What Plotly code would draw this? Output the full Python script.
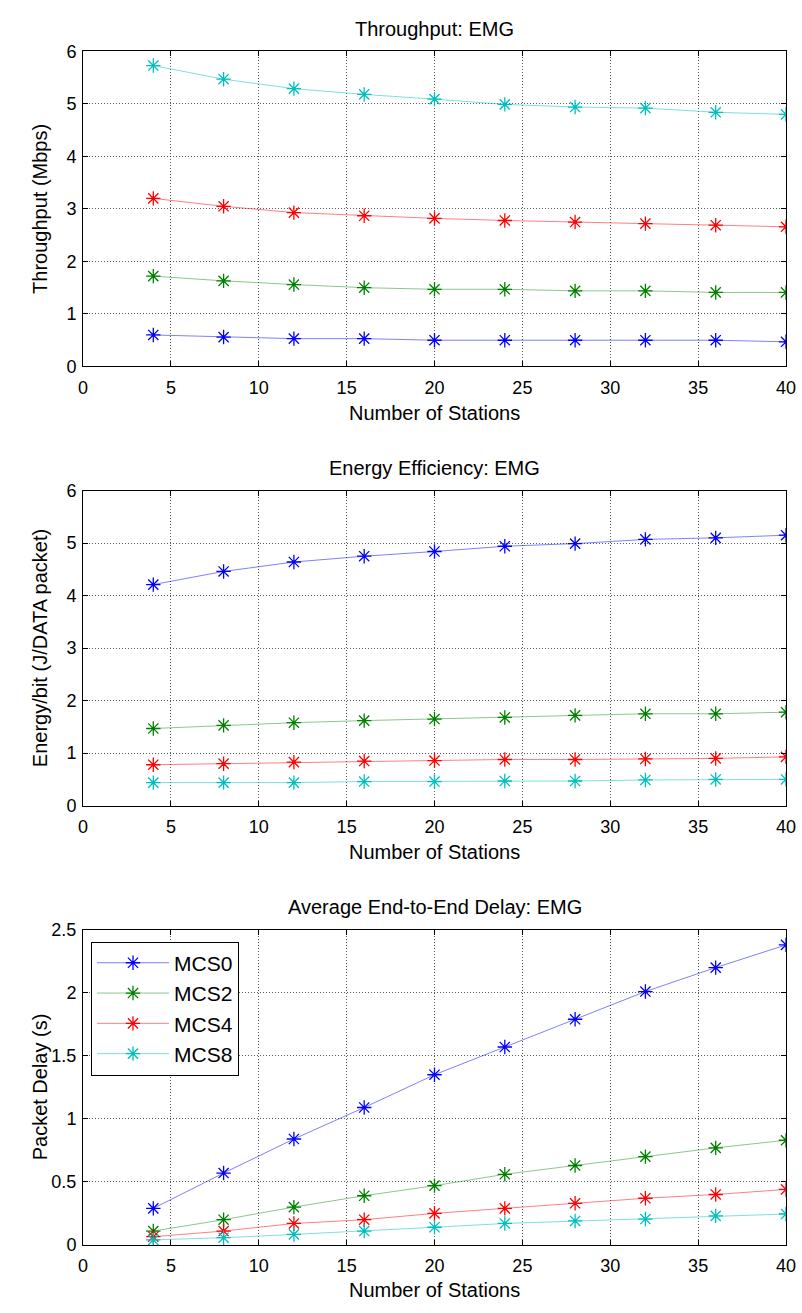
import plotly.graph_objects as go

# Number of stations on the x axis
stations = [4, 8, 12, 16, 20, 24, 28, 32, 36, 40]
series_names = ["MCS0", "MCS2", "MCS4", "MCS8"]

# Throughput (Mbps)
thr_mcs0 = [0.60, 0.56, 0.53, 0.53, 0.50, 0.50, 0.50, 0.50, 0.50, 0.47]
thr_mcs2 = [1.72, 1.63, 1.56, 1.50, 1.47, 1.47, 1.44, 1.44, 1.41, 1.41]
thr_mcs4 = [3.20, 3.05, 2.93, 2.87, 2.82, 2.78, 2.75, 2.72, 2.69, 2.66]
thr_mcs8 = [5.73, 5.47, 5.29, 5.18, 5.09, 4.99, 4.94, 4.92, 4.84, 4.80]

# Energy per bit (J/DATA packet)
eng_mcs0 = [4.21, 4.46, 4.64, 4.75, 4.84, 4.94, 4.99, 5.07, 5.10, 5.15]
eng_mcs2 = [1.47, 1.53, 1.58, 1.62, 1.65, 1.68, 1.72, 1.75, 1.75, 1.78]
eng_mcs4 = [0.78, 0.80, 0.83, 0.85, 0.86, 0.88, 0.88, 0.89, 0.90, 0.93]
eng_mcs8 = [0.44, 0.44, 0.44, 0.46, 0.46, 0.47, 0.47, 0.49, 0.50, 0.50]

# Average end-to-end packet delay (s)
dly_mcs0 = [0.29, 0.57, 0.84, 1.09, 1.35, 1.57, 1.79, 2.01, 2.20, 2.38]
dly_mcs2 = [0.11, 0.20, 0.30, 0.39, 0.47, 0.56, 0.63, 0.70, 0.77, 0.83]
dly_mcs4 = [0.065, 0.11, 0.17, 0.20, 0.25, 0.29, 0.33, 0.37, 0.40, 0.44]
dly_mcs8 = [0.04, 0.057, 0.083, 0.11, 0.14, 0.17, 0.19, 0.205, 0.23, 0.245]

line_colors = ["rgba(0,0,255,0.5)", "rgba(0,128,0,0.45)", "rgba(255,0,0,0.5)", "rgba(0,191,191,0.5)"]
marker_colors = ["#0000FF", "#008000", "#FF0000", "#00BFBF"]

panels = [
    ("Throughput: EMG", "Throughput (Mbps)", [thr_mcs0, thr_mcs2, thr_mcs4, thr_mcs8], [0, 6], 1),
    ("Energy Efficiency: EMG", "Energy/bit (J/DATA packet)", [eng_mcs0, eng_mcs2, eng_mcs4, eng_mcs8], [0, 6], 1),
    ("Average End-to-End Delay: EMG", "Packet Delay (s)", [dly_mcs0, dly_mcs2, dly_mcs4, dly_mcs8], [0, 2.5], 0.5),
]

W, H = 802, 1313
ML, MR = 83, 16
# plot-area vertical pixel extents (top, bottom)
areas = [(42, 362), (488, 808), (934, 1254)]
# offsets below each axis for the x-axis title
xtitle_gap = [47, 47, 46]

FONT = "Liberation Sans, Arial, sans-serif"

fig = go.Figure()
layout = dict(
    width=W, height=H,
    margin=dict(l=ML, r=MR, t=0, b=0, pad=0),
    paper_bgcolor="white", plot_bgcolor="white",
    font=dict(family=FONT, size=18, color="black"),
    showlegend=True,
    annotations=[],
)

def py(px):
    return 1 - px / H

for i, (title, ytitle, data, yr, dt) in enumerate(panels):
    n = i + 1
    xa = "x" if n == 1 else f"x{n}"
    ya = "y" if n == 1 else f"y{n}"
    for k, vals in enumerate(data):
        fig.add_trace(go.Scatter(
            x=stations, y=vals, xaxis=xa, yaxis=ya,
            mode="lines+markers", name=series_names[k],
            showlegend=(n == 3),
            line=dict(color=line_colors[k], width=1),
            marker=dict(symbol="asterisk-open", size=12,
                        line=dict(color=marker_colors[k], width=1.3),
                        color=marker_colors[k]),
        ))
    top, bot = areas[i]
    axis_common = dict(
        showline=True, linecolor="black", linewidth=1, mirror="ticks",
        ticks="inside", ticklen=5, tickwidth=1, tickcolor="black",
        showgrid=True, gridcolor="rgba(0,0,0,0.65)", griddash="1px,2px", gridwidth=1,
        zeroline=False, tickfont=dict(family=FONT, size=18, color="black"),
    )
    layout["xaxis" if n == 1 else f"xaxis{n}"] = dict(
        axis_common, domain=[0, 1], range=[0, 40], dtick=5, tick0=0,
        anchor=ya, ticklabelstandoff=5,
    )
    layout["yaxis" if n == 1 else f"yaxis{n}"] = dict(
        axis_common, domain=[py(bot), py(top)], range=yr, dtick=dt, tick0=0,
        anchor=xa, ticklabelstandoff=2,
    )
    # panel title
    layout["annotations"].append(dict(
        text=title, xref="paper", yref="paper", x=0.5, y=py(top - 23),
        xanchor="center", yanchor="middle", showarrow=False,
        font=dict(family=FONT, size=20, color="black"),
    ))
    # x-axis title
    layout["annotations"].append(dict(
        text="Number of Stations", xref="paper", yref="paper", x=0.5,
        y=py(bot + xtitle_gap[i]),
        xanchor="center", yanchor="middle", showarrow=False,
        font=dict(family=FONT, size=20, color="black"),
    ))
    # y-axis title
    layout["annotations"].append(dict(
        text=ytitle, xref="paper", yref="paper", x=(40 - ML) / (W - ML - MR),
        y=py((top + bot) / 2), xanchor="center", yanchor="middle",
        textangle=-90, showarrow=False,
        font=dict(family=FONT, size=20, color="black"),
    ))

layout["legend"] = dict(
    x=(91 - ML) / (W - ML - MR), y=py(946), xanchor="left", yanchor="top",
    bgcolor="white", bordercolor="black", borderwidth=1,
    font=dict(family=FONT, size=21, color="black"),
    itemwidth=72, tracegroupgap=0,
)

fig.update_layout(**layout)
fig.write_html("out.html")
